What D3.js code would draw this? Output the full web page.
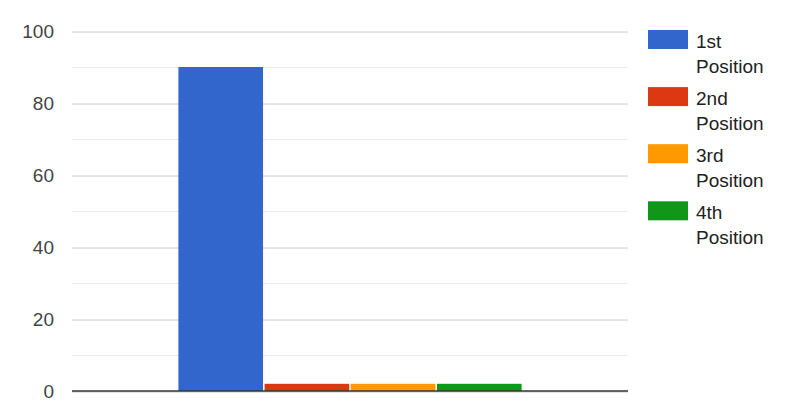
<!DOCTYPE html>
<html>
<head>
<meta charset="utf-8">
<script src="https://cdn.jsdelivr.net/npm/d3@7"></script>
<style>
  body { margin: 0; background: #fff; }
  svg { font-family: Arial, "Liberation Sans", sans-serif; }
</style>
</head>
<body>
<svg id="chart" width="788" height="401"></svg>
<script>
// chart data
const categories = ["Position"];
const seriesNames = ["1st Position", "2nd Position", "3rd Position", "4th Position"];
const seriesValues = [90, 2, 2, 2];
const seriesColors = ["#3366cc", "#dc3912", "#ff9900", "#109618"];
const yTicks = [0, 20, 40, 60, 80, 100];
const yMinorTicks = [10, 30, 50, 70, 90];

const svg = d3.select("#chart");
const margin = { top: 31, right: 160, bottom: 10, left: 72 };
const width = 628 - margin.left;
const height = 391 - margin.top;

const g = svg.append("g")
  .attr("transform", "translate(" + margin.left + "," + margin.top + ")");

const x0 = d3.scaleBand()
  .domain(categories)
  .range([0, width])
  .paddingInner(0)
  .paddingOuter(0.31);

const x1 = d3.scaleBand()
  .domain(seriesNames)
  .range([0, x0.bandwidth()])
  .paddingInner(0.018);

const y = d3.scaleLinear().domain([0, 100]).range([height, 0]);

// minor gridlines
g.selectAll(".minor")
  .data(yMinorTicks)
  .join("line")
  .attr("class", "minor")
  .attr("x1", 0).attr("x2", width)
  .attr("y1", d => y(d) + 0.5).attr("y2", d => y(d) + 0.5)
  .attr("stroke", "#ebebeb");

// major gridlines + labels
const yAxis = g.append("g")
  .call(d3.axisLeft(y).tickValues(yTicks).tickSize(-width).tickPadding(18))
  .call(a => a.select(".domain").remove());
yAxis.selectAll(".tick line")
  .attr("stroke", "#cccccc")
  .attr("transform", "translate(0,0.5)");
yAxis.selectAll(".tick text")
  .attr("fill", "#444")
  .attr("font-size", 19)
  .attr("x", -18);

// bars
const group = g.selectAll(".group")
  .data(categories)
  .join("g")
  .attr("class", "group")
  .attr("transform", d => "translate(" + x0(d) + ",0)");

group.selectAll("rect")
  .data(seriesNames.map((name, i) => ({ name, value: seriesValues[i], color: seriesColors[i] })))
  .join("rect")
  .attr("x", d => x1(d.name))
  .attr("y", d => y(d.value))
  .attr("width", x1.bandwidth())
  .attr("height", d => height - y(d.value))
  .attr("fill", d => d.color);

// baseline
g.append("line")
  .attr("x1", 0).attr("x2", width)
  .attr("y1", y(0)).attr("y2", y(0))
  .attr("stroke", "#333")
  .attr("stroke-width", 1.5);

// legend
const legend = svg.append("g").attr("transform", "translate(648,30)");
const item = legend.selectAll(".item")
  .data(seriesNames)
  .join("g")
  .attr("class", "item")
  .attr("transform", (d, i) => "translate(0," + i * 57.1 + ")");

item.append("rect")
  .attr("width", 40)
  .attr("height", 19)
  .attr("fill", (d, i) => seriesColors[i]);

item.append("text")
  .attr("x", 48)
  .attr("y", 18)
  .attr("font-size", 19)
  .attr("fill", "#222")
  .selectAll("tspan")
  .data(d => d.split(" "))
  .join("tspan")
  .attr("x", 48)
  .attr("dy", (d, i) => i === 0 ? 0 : 25)
  .text(d => d);
</script>
</body>
</html>
